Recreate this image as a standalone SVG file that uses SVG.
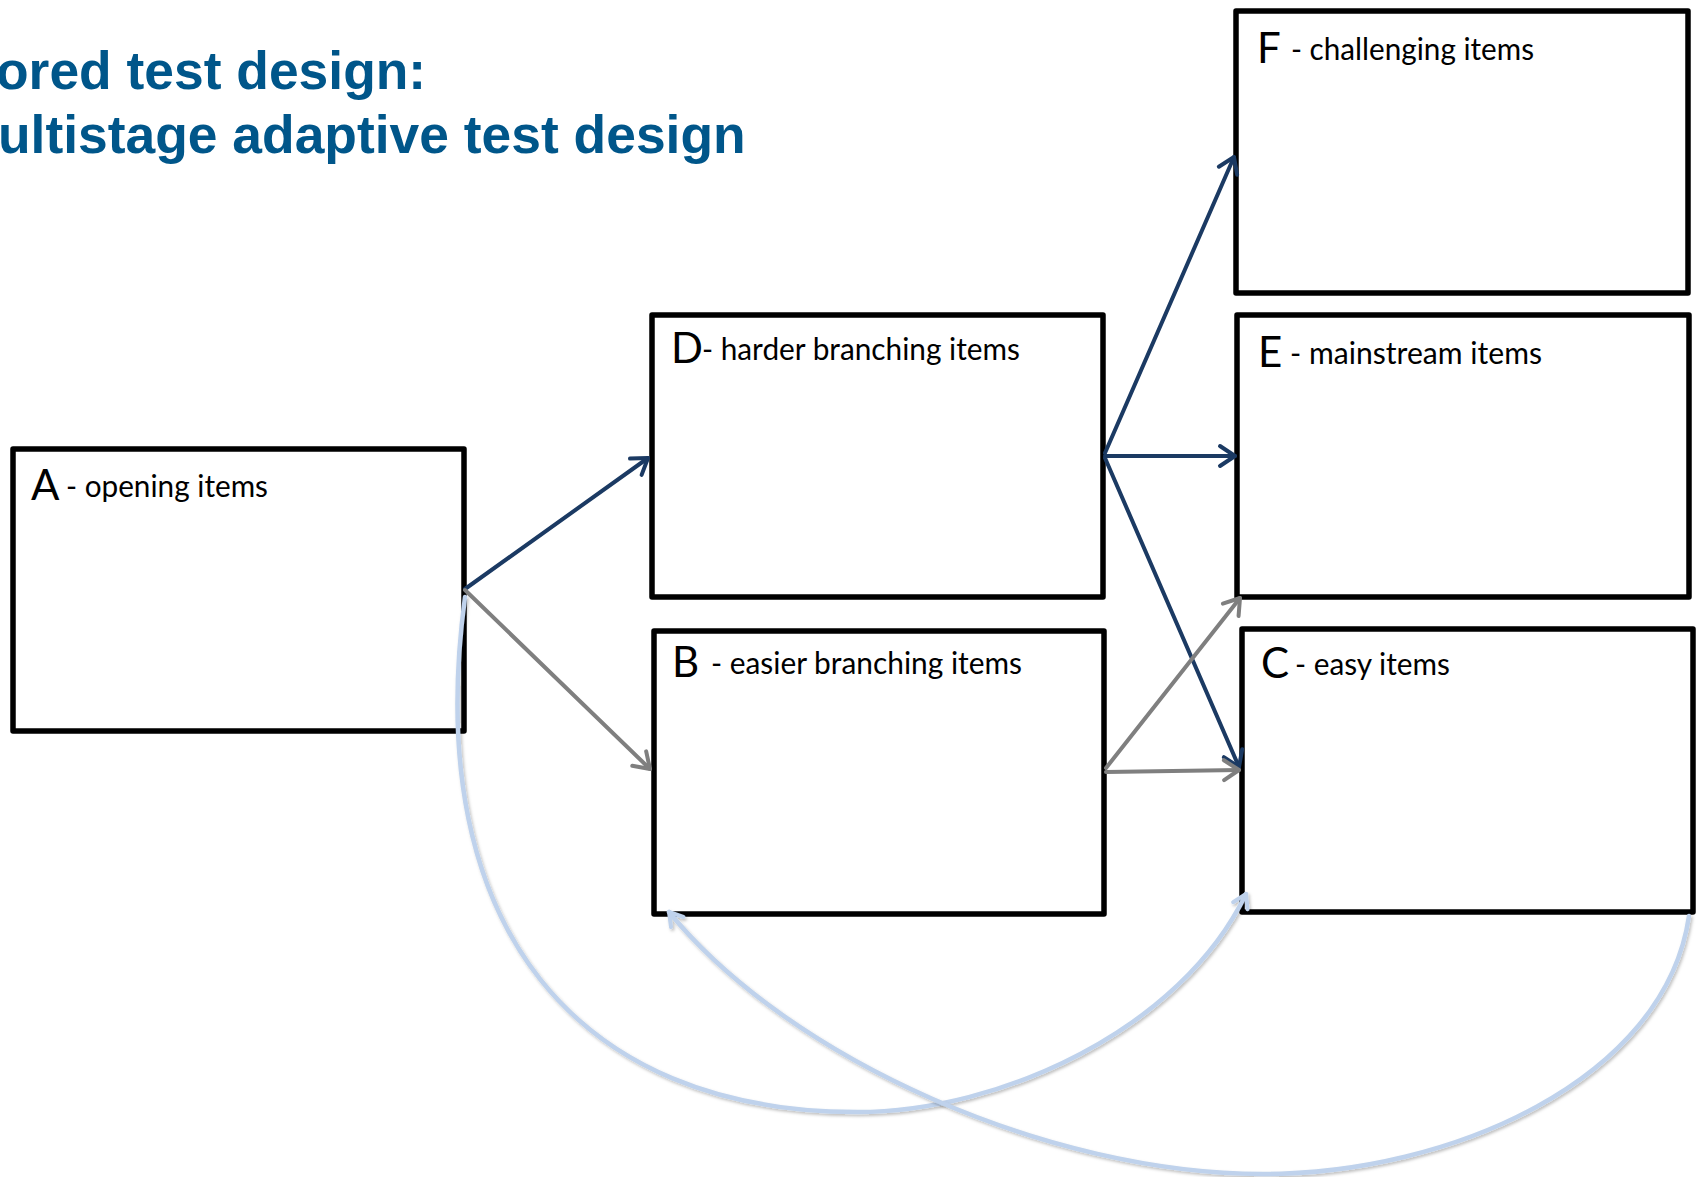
<svg xmlns="http://www.w3.org/2000/svg" width="1702" height="1177" viewBox="0 0 1702 1177">
  <style>
    .title { font-family: "Liberation Sans", Arial, sans-serif; font-weight: bold; font-size: 53.4px; fill: #00568A; }
    .box { fill: #FFFFFF; stroke: #000000; stroke-width: 5.5; stroke-linejoin: round; }
    .big { font-family: Lato, "Liberation Sans", sans-serif; font-size: 42px; fill: #000000; }
    .lbl { font-family: Lato, "Liberation Sans", sans-serif; font-size: 31px; fill: #000000; }
    .navy { fill: none; stroke: #1B3A63; stroke-width: 4; stroke-linecap: round; }
    .gray { fill: none; stroke: #7F7F7F; stroke-width: 4; stroke-linecap: round; }
    .lblue { fill: none; stroke: #BFD2EC; stroke-width: 4.5; stroke-linecap: round; filter: url(#shadow); }
  </style>
  <defs>
    <filter id="shadow" x="-10%" y="-10%" width="120%" height="120%">
      <feDropShadow dx="1.5" dy="2" stdDeviation="1.5" flood-color="#000000" flood-opacity="0.25"/>
    </filter>
    <marker id="mNavy" viewBox="-20 -14 24 28" markerWidth="24" markerHeight="28" refX="0" refY="0" orient="auto" markerUnits="userSpaceOnUse">
      <path d="M -15 -10 L 0 0 L -15 10" fill="none" stroke="#1B3A63" stroke-width="4" stroke-linecap="round" stroke-linejoin="round"/>
    </marker>
    <marker id="mGray" viewBox="-20 -14 24 28" markerWidth="24" markerHeight="28" refX="0" refY="0" orient="auto" markerUnits="userSpaceOnUse">
      <path d="M -15 -10 L 0 0 L -15 10" fill="none" stroke="#7F7F7F" stroke-width="4" stroke-linecap="round" stroke-linejoin="round"/>
    </marker>
    <marker id="mBlue" viewBox="-18 -12 22 24" markerWidth="22" markerHeight="24" refX="0" refY="0" orient="auto" markerUnits="userSpaceOnUse">
      <path d="M -13 -8 L 0 0 L -13 8" fill="none" stroke="#BFD2EC" stroke-width="4" stroke-linecap="round" stroke-linejoin="round"/>
    </marker>
  </defs>

  <rect width="1702" height="1177" fill="#FFFFFF"/>

  <g id="title">
    <text class="title" x="-4" y="89">ored test design:</text>
    <text class="title" x="-2" y="153">ultistage adaptive test design</text>
  </g>

  <g id="node-A">
    <rect class="box" x="13" y="449" width="451" height="282"/>
    <text class="big" x="31" y="500">A</text>
    <text class="lbl" x="66" y="497" textLength="202" lengthAdjust="spacingAndGlyphs">- opening items</text>
  </g>
  <g id="node-D">
    <rect class="box" x="652" y="315" width="451" height="282"/>
    <text class="big" x="671" y="363">D</text>
    <text class="lbl" x="702" y="360" textLength="318" lengthAdjust="spacingAndGlyphs">- harder branching items</text>
  </g>
  <g id="node-B">
    <rect class="box" x="654" y="631" width="450" height="283"/>
    <text class="big" x="672" y="677">B</text>
    <text class="lbl" x="711" y="674" textLength="311" lengthAdjust="spacingAndGlyphs">- easier branching items</text>
  </g>
  <g id="node-F">
    <rect class="box" x="1236" y="11" width="452" height="282"/>
    <text class="big" x="1257" y="63">F</text>
    <text class="lbl" x="1291" y="60" textLength="243" lengthAdjust="spacingAndGlyphs">- challenging items</text>
  </g>
  <g id="node-E">
    <rect class="box" x="1237" y="315" width="452" height="282"/>
    <text class="big" x="1258" y="367">E</text>
    <text class="lbl" x="1290" y="364" textLength="252" lengthAdjust="spacingAndGlyphs">- mainstream items</text>
  </g>
  <g id="node-C">
    <rect class="box" x="1242" y="629" width="451" height="283"/>
    <text class="big" x="1261" y="678">C</text>
    <text class="lbl" x="1295" y="675" textLength="155" lengthAdjust="spacingAndGlyphs">- easy items</text>
  </g>

  <g id="connectors">
    <line class="navy" x1="465" y1="589" x2="648" y2="458" marker-end="url(#mNavy)"/>
    <line class="gray" x1="465" y1="590" x2="650" y2="769" marker-end="url(#mGray)"/>
    <line class="navy" x1="1105" y1="453" x2="1234" y2="157" marker-end="url(#mNavy)"/>
    <line class="navy" x1="1105" y1="456" x2="1235" y2="456" marker-end="url(#mNavy)"/>
    <line class="navy" x1="1105" y1="458" x2="1239" y2="767" marker-end="url(#mNavy)"/>
    <line class="gray" x1="1106" y1="772" x2="1239" y2="770" marker-end="url(#mGray)"/>
    <line class="gray" x1="1106" y1="768" x2="1240" y2="598" marker-end="url(#mGray)"/>
    <path class="lblue" d="M 465 597 C 420 930 580 1112 857 1112 C 1000 1112 1180 1030 1246 894" marker-end="url(#mBlue)"/>
    <path class="lblue" d="M 1689 916 C 1665 1080 1450 1174 1263 1174 C 1050 1174 790 1060 669 912" marker-end="url(#mBlue)"/>
  </g>
</svg>
